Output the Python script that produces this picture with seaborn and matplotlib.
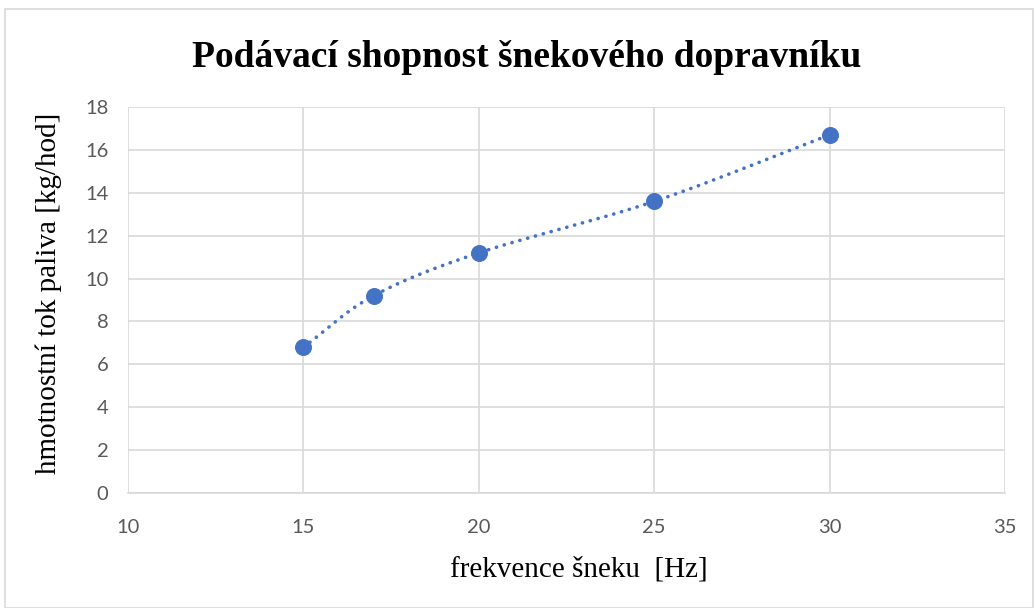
#!/bin/env python3
import matplotlib.pyplot as plt
import numpy as np
import pandas as pd
import seaborn as sns
from matplotlib.patches import Rectangle

sns.set_theme(style='white')
plt.rcParams['font.family'] = ['Liberation Serif', 'DejaVu Serif']

frekvence = [15, 17, 20, 25, 30]
tok = [6.8, 9.2, 11.2, 13.6, 16.7]
x_ticks = [10, 15, 20, 25, 30, 35]
y_ticks = [0, 2, 4, 6, 8, 10, 12, 14, 16, 18]

BLUE = '#4472C4'


def smooth(xs, ys, n=40):
    # Catmull-Rom spline through the points (like Excel "smoothed line")
    px = np.array(xs, dtype=float)
    py = np.array(ys, dtype=float)
    px = np.concatenate([[2 * px[0] - px[1]], px, [2 * px[-1] - px[-2]]])
    py = np.concatenate([[2 * py[0] - py[1]], py, [2 * py[-1] - py[-2]]])
    out_x, out_y = [], []
    t = np.linspace(0, 1, n)
    for i in range(1, len(px) - 2):
        for p, out in ((px, out_x), (py, out_y)):
            p0, p1, p2, p3 = p[i - 1], p[i], p[i + 1], p[i + 2]
            seg = 0.5 * ((2 * p1) + (-p0 + p2) * t
                         + (2 * p0 - 5 * p1 + 4 * p2 - p3) * t ** 2
                         + (-p0 + 3 * p1 - 3 * p2 + p3) * t ** 3)
            out.extend(seg)
    return np.array(out_x), np.array(out_y)


def main():
    df = pd.DataFrame({'x': frekvence, 'y': tok})
    sx, sy = smooth(frekvence, tok)
    curve = pd.DataFrame({'x': sx, 'y': sy})

    fig = plt.figure(figsize=(10.35, 6.08), dpi=100)
    ax = fig.add_axes([0.1237, 0.189, 0.8473, 0.635])

    sns.lineplot(data=curve, x='x', y='y', sort=False, ax=ax, color=BLUE,
                 linewidth=2.6, linestyle=(0, (0.05, 2.2)),
                 dash_capstyle='round', zorder=3)
    sns.scatterplot(data=df, x='x', y='y', ax=ax, color=BLUE, s=130,
                    edgecolor=BLUE, linewidth=0.8, zorder=4)

    ax.set_xlim(10, 35)
    ax.set_ylim(0, 18)
    ax.set_xticks(x_ticks)
    ax.set_yticks(y_ticks)
    ax.grid(True, color='#d9d9d9', linewidth=1.2)
    ax.set_axisbelow(True)
    for s in ['top', 'right', 'left']:
        ax.spines[s].set_visible(False)
    ax.spines['bottom'].set_color('#d9d9d9')
    ax.spines['bottom'].set_linewidth(1.2)
    ax.tick_params(axis='both', length=0, labelsize=14.5, labelcolor='#595959')
    for lab in ax.get_xticklabels() + ax.get_yticklabels():
        lab.set_family(['Lato', 'DejaVu Sans'])
    ax.tick_params(axis='y', pad=14)
    ax.tick_params(axis='x', pad=19)

    ax.set_xlabel('frekvence šneku  [Hz]', fontsize=21, color='black')
    ax.set_ylabel('hmotnostní tok paliva [kg/hod]', fontsize=21, color='black')
    ax.xaxis.set_label_coords(0.514, -0.164)
    ax.yaxis.set_label_coords(-0.075, 0.518)
    fig.text(0.509, 0.905, 'Podávací shopnost šnekového dopravníku',
             ha='center', va='center', fontsize=27, fontweight='bold', color='black')

    fig.patches.append(Rectangle((0.005, 0.0), 0.993, 0.985, transform=fig.transFigure,
                                 fill=False, edgecolor='#d9d9d9', linewidth=1.2))

    fig.savefig('out.png', dpi=100)


if __name__ == '__main__':
    plt.ioff()
    main()
